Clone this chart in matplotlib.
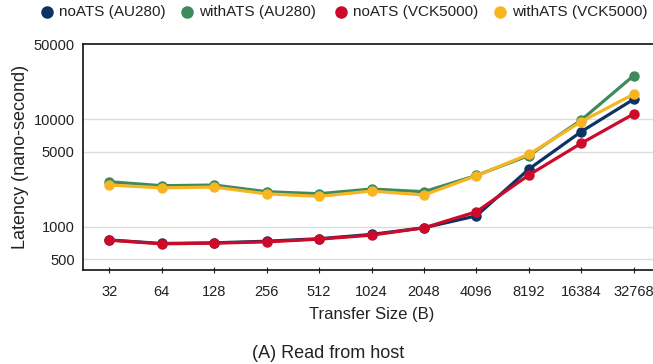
import matplotlib
matplotlib.use("Agg")
import matplotlib.pyplot as plt
from matplotlib.lines import Line2D
from matplotlib.ticker import FixedLocator, NullLocator

plt.rcParams['font.family'] = ['Liberation Sans', 'DejaVu Sans']

sizes = ["32", "64", "128", "256", "512", "1024", "2048", "4096", "8192", "16384", "32768"]
no_ats_au280 = [755, 700, 710, 735, 775, 850, 980, 1265, 3440, 7670, 15350]
with_ats_au280 = [2625, 2410, 2445, 2120, 2030, 2245, 2120, 3000, 4600, 9840, 25450]
no_ats_vck5000 = [752, 695, 705, 725, 768, 837, 979, 1380, 3030, 5980, 11200]
with_ats_vck5000 = [2445, 2305, 2340, 2025, 1920, 2150, 1975, 2985, 4720, 9510, 17100]
series_names = ["noATS (AU280)", "withATS (AU280)", "noATS (VCK5000)", "withATS (VCK5000)"]
y_ticks = [500, 1000, 5000, 10000, 50000]

colors = ["#0d3264", "#3d8a5c", "#cc0a2a", "#f7b621"]
series = [no_ats_au280, with_ats_au280, no_ats_vck5000, with_ats_vck5000]

W, H = 653, 364
fig = plt.figure(figsize=(W / 100, H / 100), dpi=100)
left, right, top, bottom = 83, 660, 44, 270
ax = fig.add_axes([left / W, 1 - bottom / H, (right - left) / W, (bottom - top) / H])

x = list(range(len(sizes)))
for vals, c in zip(series, colors):
    ax.plot(x, vals, color=c, lw=2.3, marker="o", ms=6.5, solid_capstyle="round", zorder=3)

ax.set_yscale("log")
ax.set_ylim(397, 50000)
ax.set_xlim(-0.5, len(sizes) - 0.5)
ax.yaxis.set_major_locator(FixedLocator(y_ticks))
ax.yaxis.set_minor_locator(NullLocator())
ax.set_yticklabels([str(v) for v in y_ticks])
ax.set_xticks(x)
ax.set_xticklabels(sizes)
for v in y_ticks[:-1]:
    ax.axhline(v, color="#dddddd", lw=1, zorder=1)

ax.tick_params(axis="y", length=0, labelsize=10.5, pad=6, colors="#222222")
ax.tick_params(axis="x", direction="inout", length=5, width=0.8, labelsize=10.5, pad=8, colors="#222222")
for s in ax.spines.values():
    s.set_linewidth(1.2)
    s.set_color("#111111")

ax.set_xlabel("Transfer Size (B)", fontsize=12, labelpad=6, color="#222222")
ax.set_ylabel("Latency (nano-second)", fontsize=13, labelpad=3, color="#222222")

fig.text(328 / W, 1 - 353 / H, "(A) Read from host", ha="center", va="center", fontsize=13, color="#222222")

# Legend row across the top: marker then label for each series
legend_x = [47, 187, 341, 500]
legend_y = 1 - 12 / H
for name, c, lx in zip(series_names, colors, legend_x):
    fig.add_artist(Line2D([lx / W], [legend_y], ls="none", marker="o", ms=8, color=c,
                          transform=fig.transFigure))
    fig.text((lx + 12) / W, legend_y, name, ha="left", va="center", fontsize=11, color="#222222")

fig.savefig("out.png", dpi=100)
